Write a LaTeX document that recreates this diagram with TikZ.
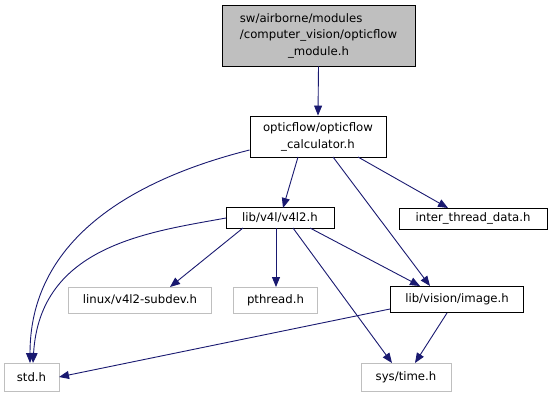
\documentclass[tikz,border=0pt]{standalone}
\usepackage{fontspec}
\setmainfont{DejaVu Sans}
\usetikzlibrary{arrows.meta}
\definecolor{edgeblue}{HTML}{191970}
\definecolor{headfill}{HTML}{BFBFBF}
\definecolor{extgray}{HTML}{BFBFBF}
\tikzset{
  file/.style={draw=black, fill=white, line width=0.9pt, inner sep=0pt, font=\fontsize{11.7}{16.5}\selectfont, align=center},
  mainfile/.style={file, fill=headfill},
  extfile/.style={file, draw=extgray},
  dep/.style={draw=edgeblue, line width=0.9pt, -{Triangle[length=10pt,width=8pt]}},
}
% wrapped file name: leading lines flush left, last line centred
\newcommand{\wrapname}[2]{\begin{tabular}{@{}l@{}}#1\\\multicolumn{1}{@{}c@{}}{#2}\end{tabular}}
\begin{document}
\begin{tikzpicture}[x=1pt, y=-1pt]
\useasboundingbox (0,0) rectangle (552,397);
% file boxes
\node[mainfile, minimum width=193pt, minimum height=61pt] (mod) at (318.5,35.5)
  {\wrapname{sw/airborne/modules\\/computer\_vision/opticflow}{\_module.h}};
\node[file, minimum width=136pt, minimum height=41pt] (calc) at (318,136.5)
  {\wrapname{opticflow/opticflow}{\_calculator.h}};
\node[file, minimum width=108pt, minimum height=21pt] (v4l2) at (280,218) {lib/v4l/v4l2.h};
\node[file, minimum width=148pt, minimum height=21pt] (itd) at (473,218.5) {inter\_thread\_data.h};
\node[extfile, minimum width=143pt, minimum height=26pt] (subdev) at (140,300) {linux/v4l2-subdev.h};
\node[extfile, minimum width=84pt, minimum height=26pt] (pthread) at (275.5,300) {pthread.h};
\node[file, minimum width=133pt, minimum height=26pt] (image) at (457,299.5) {lib/vision/image.h};
\node[extfile, minimum width=55pt, minimum height=28pt] (std) at (31.5,377) {std.h};
\node[extfile, minimum width=90pt, minimum height=28pt] (time) at (406,377) {sys/time.h};
% include edges
\draw[dep] (mod.south) -- (calc.north);
\draw[dep] (calc.west |- 0,150) .. controls (150,175) and (30,230) .. (30,363);
\draw[dep] (298,157) -- (283,208);
\draw[dep] (333,157) -- (430,286);
\draw[dep] (358,157) -- (448,208);
\draw[dep] (226,218) .. controls (150,232) and (40,245) .. (33,363);
\draw[dep] (243,228) -- (170,287);
\draw[dep] (276,228) -- (276,287);
\draw[dep] (310,228) -- (420,286);
\draw[dep] (293,228) -- (392,363);
\draw[dep] (390,309) -- (59,377);
\draw[dep] (447,313) -- (415,363);
\end{tikzpicture}
\end{document}
